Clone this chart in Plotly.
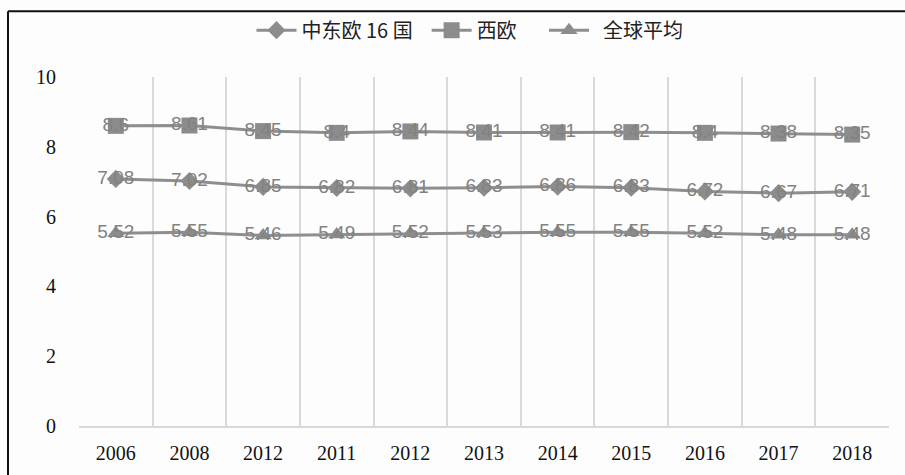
import plotly.graph_objects as go

years = ["2006", "2008", "2012", "2011", "2012", "2013", "2014", "2015", "2016", "2017", "2018"]
cee16 = [7.08, 7.02, 6.85, 6.82, 6.81, 6.83, 6.86, 6.83, 6.72, 6.67, 6.71]
west = [8.6, 8.61, 8.45, 8.4, 8.44, 8.41, 8.41, 8.42, 8.4, 8.38, 8.35]
globe = [5.52, 5.55, 5.46, 5.49, 5.52, 5.53, 5.55, 5.55, 5.52, 5.48, 5.48]
names = ["中东欧 16 国", "西欧", "全球平均"]
symbols = ["diamond", "square", "triangle-up"]
sizes = [14, 16, 15]

NB = "\u00a0"
legend_names = [names[0] + NB * 2, names[1] + NB * 5, NB * 2 + names[2]]

serif = "Liberation Serif"
idx = list(range(len(years)))
fig = go.Figure()
for name, vals, sym, sz in zip(legend_names, [cee16, west, globe], symbols, sizes):
    fig.add_trace(go.Scatter(
        x=idx, y=vals, name=name, mode="lines+markers+text",
        text=[f"{v:g}" for v in vals], textposition="middle center",
        textfont=dict(family="Liberation Sans", size=19, color="#828282"),
        line=dict(color="#8e8e8e", width=3),
        marker=dict(symbol=sym, size=sz, color="#8c8c8c"),
    ))

fig.update_layout(
    width=905, height=475,
    margin=dict(l=79, r=16, t=76, b=49),
    paper_bgcolor="#fdfdfd", plot_bgcolor="#fdfdfd",
    showlegend=True,
    legend=dict(orientation="h", x=(470 - 79) / 810, xanchor="center", y=1.131, yanchor="middle",
                font=dict(family="Noto Sans CJK SC", size=20, color="#222222"),
                bgcolor="rgba(0,0,0,0)", itemwidth=40, traceorder="normal"),
    xaxis=dict(
        range=[-0.5, len(years) - 0.5],
        tickvals=idx, ticktext=years, showgrid=False, zeroline=False,
        showline=True, linecolor="#d9d9d9", linewidth=1.5,
        tickfont=dict(family=serif, size=20, color="#111111"),
        ticks="", ticklabelstandoff=8,
        minor=dict(tickvals=[i - 0.5 for i in range(len(years) + 1)], showgrid=True,
                   gridcolor="#d9d9d9", gridwidth=1.5, ticks=""),
    ),
    yaxis=dict(
        range=[0, 10], dtick=2, showgrid=False, zeroline=False, showline=False,
        tickfont=dict(family=serif, size=20, color="#111111"),
        ticks="", ticklabelstandoff=22,
    ),
    shapes=[
        dict(type="line", xref="paper", yref="paper", x0=(8 - 79) / 810, x1=1.1,
             y0=1 + (76 - 10) / 350, y1=1 + (76 - 10) / 350,
             line=dict(color="#111111", width=2)),
        dict(type="line", xref="paper", yref="paper", x0=(8 - 79) / 810, x1=(8 - 79) / 810,
             y0=1 + (76 - 10) / 350, y1=-0.3,
             line=dict(color="#111111", width=2)),
    ],
)

fig.write_html("out.html")
